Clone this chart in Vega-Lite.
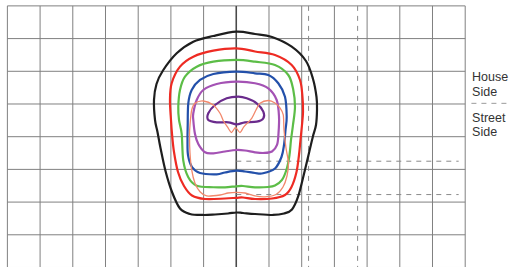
{
  "$schema": "https://vega.github.io/schema/vega-lite/v6.json",
  "width": 510,
  "height": 267,
  "padding": 0,
  "autosize": {"type": "none"},
  "background": "white",
  "config": {"view": {"stroke": null}},
  "datasets": {
    "vgrid": [{"u":-7},{"u":-6},{"u":-5},{"u":-4},{"u":-3},{"u":-2},{"u":-1},{"u":0},{"u":1},{"u":2},{"u":3},{"u":4},{"u":5},{"u":6},{"u":7}],
    "hgrid": [{"v":3},{"v":2},{"v":1},{"v":0},{"v":-1},{"v":-2},{"v":-3},{"v":-4},{"v":-5}],
    "dashV": [{"u":2.21},{"u":3.71}],
    "dashH": [{"v":-1.75},{"v":-2.77}],
    "labels": [
      {"t":"House","v":0.713},
      {"t":"Side","v":0.254},
      {"t":"Street","v":-0.56},
      {"t":"Side","v":-0.988}
    ],
    "contours": [
      {"k":"c1","i":0,"x":0,"y":2.211},{"k":"c1","i":1,"x":0.572,"y":2.141},{"k":"c1","i":2,"x":1.092,"y":2.049},{"k":"c1","i":3,"x":1.694,"y":1.752},{"k":"c1","i":4,"x":2.131,"y":1.315},{"k":"c1","i":5,"x":2.346,"y":0.765},{"k":"c1","i":6,"x":2.453,"y":0.214},{"k":"c1","i":7,"x":2.468,"y":-0.183},{"k":"c1","i":8,"x":2.437,"y":-0.642},{"k":"c1","i":9,"x":2.346,"y":-0.979},{"k":"c1","i":10,"x":2.223,"y":-1.498},{"k":"c1","i":11,"x":2.04,"y":-2.263},{"k":"c1","i":12,"x":1.887,"y":-2.844},{"k":"c1","i":13,"x":1.703,"y":-3.226},{"k":"c1","i":14,"x":1.459,"y":-3.349},{"k":"c1","i":15,"x":1.122,"y":-3.394},{"k":"c1","i":16,"x":0.572,"y":-3.364},{"k":"c1","i":17,"x":0.205,"y":-3.333},{"k":"c1","i":18,"x":0,"y":-3.318},{"k":"c1","i":19,"x":-0.254,"y":-3.349},{"k":"c1","i":20,"x":-0.651,"y":-3.379},{"k":"c1","i":21,"x":-1.018,"y":-3.394},{"k":"c1","i":22,"x":-1.416,"y":-3.364},{"k":"c1","i":23,"x":-1.722,"y":-3.196},{"k":"c1","i":24,"x":-1.966,"y":-2.691},{"k":"c1","i":25,"x":-2.165,"y":-2.049},{"k":"c1","i":26,"x":-2.318,"y":-1.346},{"k":"c1","i":27,"x":-2.41,"y":-0.856},{"k":"c1","i":28,"x":-2.486,"y":-0.489},{"k":"c1","i":29,"x":-2.517,"y":0.122},{"k":"c1","i":30,"x":-2.44,"y":0.612},{"k":"c1","i":31,"x":-2.242,"y":1.024},{"k":"c1","i":32,"x":-1.823,"y":1.55},{"k":"c1","i":33,"x":-1.315,"y":1.905},{"k":"c1","i":34,"x":-0.703,"y":2.08},

      {"k":"c2","i":0,"x":0,"y":1.703},{"k":"c2","i":1,"x":0.572,"y":1.606},{"k":"c2","i":2,"x":1.183,"y":1.498},{"k":"c2","i":3,"x":1.694,"y":1.193},{"k":"c2","i":4,"x":1.948,"y":0.734},{"k":"c2","i":5,"x":2.024,"y":0.214},{"k":"c2","i":6,"x":2.04,"y":-0.245},{"k":"c2","i":7,"x":2.009,"y":-0.642},{"k":"c2","i":8,"x":1.963,"y":-1.101},{"k":"c2","i":9,"x":1.917,"y":-1.56},{"k":"c2","i":10,"x":1.841,"y":-2.08},{"k":"c2","i":11,"x":1.688,"y":-2.538},{"k":"c2","i":12,"x":1.489,"y":-2.783},{"k":"c2","i":13,"x":1.092,"y":-2.89},{"k":"c2","i":14,"x":0.572,"y":-2.905},{"k":"c2","i":15,"x":0.205,"y":-2.859},{"k":"c2","i":16,"x":0,"y":-2.869},{"k":"c2","i":17,"x":-0.346,"y":-2.89},{"k":"c2","i":18,"x":-0.957,"y":-2.905},{"k":"c2","i":19,"x":-1.355,"y":-2.798},{"k":"c2","i":20,"x":-1.599,"y":-2.508},{"k":"c2","i":21,"x":-1.783,"y":-2.08},{"k":"c2","i":22,"x":-1.905,"y":-1.468},{"k":"c2","i":23,"x":-1.966,"y":-0.917},{"k":"c2","i":24,"x":-1.997,"y":-0.489},{"k":"c2","i":25,"x":-2.028,"y":0.122},{"k":"c2","i":26,"x":-1.976,"y":0.633},{"k":"c2","i":27,"x":-1.722,"y":1.141},{"k":"c2","i":28,"x":-1.315,"y":1.446},{"k":"c2","i":29,"x":-0.703,"y":1.63},

      {"k":"c4","i":0,"x":0,"y":1.346},{"k":"c4","i":1,"x":0.572,"y":1.294},{"k":"c4","i":2,"x":1.183,"y":1.193},{"k":"c4","i":3,"x":1.59,"y":0.887},{"k":"c4","i":4,"x":1.743,"y":0.428},{"k":"c4","i":5,"x":1.795,"y":-0.083},{"k":"c4","i":6,"x":1.734,"y":-0.642},{"k":"c4","i":7,"x":1.673,"y":-1.101},{"k":"c4","i":8,"x":1.627,"y":-1.56},{"k":"c4","i":9,"x":1.55,"y":-1.957},{"k":"c4","i":10,"x":1.398,"y":-2.324},{"k":"c4","i":11,"x":1.183,"y":-2.492},{"k":"c4","i":12,"x":0.969,"y":-2.538},{"k":"c4","i":13,"x":0.572,"y":-2.547},{"k":"c4","i":14,"x":0.205,"y":-2.508},{"k":"c4","i":15,"x":0,"y":-2.517},{"k":"c4","i":16,"x":-0.346,"y":-2.547},{"k":"c4","i":17,"x":-0.703,"y":-2.547},{"k":"c4","i":18,"x":-1.211,"y":-2.498},{"k":"c4","i":19,"x":-1.468,"y":-2.242},{"k":"c4","i":20,"x":-1.621,"y":-1.734},{"k":"c4","i":21,"x":-1.67,"y":-0.917},{"k":"c4","i":22,"x":-1.752,"y":-0.489},{"k":"c4","i":23,"x":-1.774,"y":-0.083},{"k":"c4","i":24,"x":-1.722,"y":0.428},{"k":"c4","i":25,"x":-1.569,"y":0.835},{"k":"c4","i":26,"x":-1.211,"y":1.141},{"k":"c4","i":27,"x":-0.703,"y":1.294},

      {"k":"c5","i":0,"x":0,"y":0.988},{"k":"c5","i":1,"x":0.572,"y":0.939},{"k":"c5","i":2,"x":0.979,"y":0.887},{"k":"c5","i":3,"x":1.284,"y":0.633},{"k":"c5","i":4,"x":1.489,"y":0.223},{"k":"c5","i":5,"x":1.541,"y":-0.388},{"k":"c5","i":6,"x":1.505,"y":-0.795},{"k":"c5","i":7,"x":1.459,"y":-1.254},{"k":"c5","i":8,"x":1.382,"y":-1.621},{"k":"c5","i":9,"x":1.183,"y":-1.972},{"k":"c5","i":10,"x":0.817,"y":-2.119},{"k":"c5","i":11,"x":0.572,"y":-2.11},{"k":"c5","i":12,"x":0.266,"y":-2.064},{"k":"c5","i":13,"x":0,"y":-2.04},{"k":"c5","i":14,"x":-0.346,"y":-2.095},{"k":"c5","i":15,"x":-0.599,"y":-2.15},{"k":"c5","i":16,"x":-1.11,"y":-2.11},{"k":"c5","i":17,"x":-1.355,"y":-1.927},{"k":"c5","i":18,"x":-1.477,"y":-1.56},{"k":"c5","i":19,"x":-1.492,"y":-1.101},{"k":"c5","i":20,"x":-1.486,"y":-0.642},{"k":"c5","i":21,"x":-1.468,"y":0.021},{"k":"c5","i":22,"x":-1.364,"y":0.428},{"k":"c5","i":23,"x":-1.11,"y":0.734},{"k":"c5","i":24,"x":-0.703,"y":0.917},

      {"k":"c6","i":0,"x":0,"y":0.682},{"k":"c6","i":1,"x":0.572,"y":0.633},{"k":"c6","i":2,"x":0.979,"y":0.48},{"k":"c6","i":3,"x":1.235,"y":0.122},{"k":"c6","i":4,"x":1.306,"y":-0.388},{"k":"c6","i":5,"x":1.291,"y":-0.896},{"k":"c6","i":6,"x":1.245,"y":-1.254},{"k":"c6","i":7,"x":1.092,"y":-1.453},{"k":"c6","i":8,"x":0.847,"y":-1.498},{"k":"c6","i":9,"x":0.572,"y":-1.477},{"k":"c6","i":10,"x":0.266,"y":-1.422},{"k":"c6","i":11,"x":0,"y":-1.407},{"k":"c6","i":12,"x":-0.346,"y":-1.453},{"k":"c6","i":13,"x":-0.703,"y":-1.508},{"k":"c6","i":14,"x":-0.957,"y":-1.477},{"k":"c6","i":15,"x":-1.162,"y":-1.223},{"k":"c6","i":16,"x":-1.263,"y":-0.917},{"k":"c6","i":17,"x":-1.315,"y":-0.489},{"k":"c6","i":18,"x":-1.315,"y":-0.284},{"k":"c6","i":19,"x":-1.211,"y":0.122},{"k":"c6","i":20,"x":-1.009,"y":0.428},{"k":"c6","i":21,"x":-0.599,"y":0.612},

      {"k":"c7","i":0,"x":0.061,"y":0.223},{"k":"c7","i":1,"x":0.318,"y":0.174},{"k":"c7","i":2,"x":0.624,"y":0.021},{"k":"c7","i":3,"x":0.826,"y":-0.235},{"k":"c7","i":4,"x":0.826,"y":-0.437},{"k":"c7","i":5,"x":0.624,"y":-0.541},{"k":"c7","i":6,"x":0.266,"y":-0.56},{"k":"c7","i":7,"x":0.012,"y":-0.621},{"k":"c7","i":8,"x":-0.245,"y":-0.56},{"k":"c7","i":9,"x":-0.599,"y":-0.56},{"k":"c7","i":10,"x":-0.856,"y":-0.489},{"k":"c7","i":11,"x":-0.856,"y":-0.284},{"k":"c7","i":12,"x":-0.651,"y":-0.031},{"k":"c7","i":13,"x":-0.294,"y":0.174},

      {"k":"c3","i":0,"x":-1.416,"y":-1.498},{"k":"c3","i":1,"x":-1.431,"y":-0.948},{"k":"c3","i":2,"x":-1.416,"y":-0.642},{"k":"c3","i":3,"x":-1.364,"y":-0.183},{"k":"c3","i":4,"x":-1.263,"y":0.021},{"k":"c3","i":5,"x":-1.009,"y":0.092},{"k":"c3","i":6,"x":-0.703,"y":-0.031},{"k":"c3","i":7,"x":-0.498,"y":-0.284},{"k":"c3","i":8,"x":-0.391,"y":-0.52},{"k":"c3","i":9,"x":-0.269,"y":-0.703},{"k":"c3","i":10,"x":-0.147,"y":-0.872},{"k":"c3","i":11,"x":-0.024,"y":-0.719},{"k":"c3","i":12,"x":0.113,"y":-0.872},{"k":"c3","i":13,"x":0.235,"y":-0.694},{"k":"c3","i":14,"x":0.471,"y":-0.437},{"k":"c3","i":15,"x":0.602,"y":-0.183},{"k":"c3","i":16,"x":0.725,"y":0.021},{"k":"c3","i":17,"x":0.979,"y":0.107},{"k":"c3","i":18,"x":1.183,"y":0.031},{"k":"c3","i":19,"x":1.336,"y":-0.122},{"k":"c3","i":20,"x":1.437,"y":-0.336},{"k":"c3","i":21,"x":1.459,"y":-0.795},{"k":"c3","i":22,"x":1.52,"y":-1.346},{"k":"c3","i":23,"x":1.596,"y":-1.804},{"k":"c3","i":24,"x":1.55,"y":-2.202},{"k":"c3","i":25,"x":1.428,"y":-2.538},{"k":"c3","i":26,"x":1.214,"y":-2.768},{"k":"c3","i":27,"x":0.878,"y":-2.838},{"k":"c3","i":28,"x":0.572,"y":-2.813},{"k":"c3","i":29,"x":0.266,"y":-2.722},{"k":"c3","i":30,"x":0,"y":-2.7},{"k":"c3","i":31,"x":-0.254,"y":-2.722},{"k":"c3","i":32,"x":-0.498,"y":-2.783},{"k":"c3","i":33,"x":-0.905,"y":-2.813},{"k":"c3","i":34,"x":-1.11,"y":-2.682},{"k":"c3","i":35,"x":-1.263,"y":-2.425},{"k":"c3","i":36,"x":-1.364,"y":-2.018}
    ]
  },
  "resolve": {"scale": {"color": "independent", "strokeWidth": "independent"}},
  "layer": [
    {
      "data": {"name": "vgrid"},
      "mark": {"type": "rule", "color": "#808080", "strokeWidth": 1},
      "encoding": {
        "x": {"field": "u", "type": "quantitative", "scale": {"domain": [-7.226, 8.37], "nice": false, "zero": false}, "axis": null},
        "y": {"datum": 3, "type": "quantitative", "scale": {"domain": [-4.985, 3.18], "nice": false, "zero": false}, "axis": null},
        "y2": {"datum": -5}
      }
    },
    {
      "data": {"name": "hgrid"},
      "mark": {"type": "rule", "color": "#808080", "strokeWidth": 1},
      "encoding": {
        "y": {"field": "v", "type": "quantitative"},
        "x": {"datum": -7, "type": "quantitative"},
        "x2": {"datum": 7}
      }
    },
    {
      "data": {"name": "vgrid"},
      "transform": [{"filter": "datum.u == 0"}],
      "mark": {"type": "rule", "color": "#4a4a4a", "strokeWidth": 1.5},
      "encoding": {
        "x": {"field": "u", "type": "quantitative"},
        "y": {"datum": 3, "type": "quantitative"},
        "y2": {"datum": -5}
      }
    },
    {
      "data": {"name": "dashV"},
      "mark": {"type": "rule", "color": "#8a8a8a", "strokeWidth": 1, "strokeDash": [5, 5]},
      "encoding": {
        "x": {"field": "u", "type": "quantitative"},
        "y": {"datum": 3, "type": "quantitative"},
        "y2": {"datum": -5}
      }
    },
    {
      "data": {"name": "dashH"},
      "mark": {"type": "rule", "color": "#8a8a8a", "strokeWidth": 1, "strokeDash": [5, 5]},
      "encoding": {
        "y": {"field": "v", "type": "quantitative"},
        "x": {"datum": 0, "type": "quantitative"},
        "x2": {"datum": 6.8}
      }
    },
    {
      "data": {"values": [{"v": 0.02}]},
      "mark": {"type": "rule", "color": "#9a9a9a", "strokeWidth": 1, "strokeDash": [5, 5]},
      "encoding": {
        "y": {"field": "v", "type": "quantitative"},
        "x": {"datum": 7.19, "type": "quantitative"},
        "x2": {"datum": 8.4}
      }
    },
    {
      "data": {"name": "contours"},
      "transform": [{"filter": "datum.k != 'c3'"}],
      "mark": {"type": "line", "interpolate": "cardinal-closed", "strokeWidth": 2.2},
      "encoding": {
        "x": {"field": "x", "type": "quantitative"},
        "y": {"field": "y", "type": "quantitative"},
        "order": {"field": "i", "type": "quantitative"},
        "color": {"field": "k", "type": "nominal", "legend": null,
          "scale": {"domain": ["c1", "c2", "c4", "c5", "c6", "c7"], "range": ["#1e1e1e", "#ee2b23", "#5cbd47", "#2350aa", "#a452b4", "#6a2b8c"]}}
      }
    },
    {
      "data": {"name": "contours"},
      "transform": [{"filter": "datum.k == 'c3'"}],
      "mark": {"type": "line", "interpolate": "cardinal-closed", "tension": 0.2, "strokeWidth": 1.3, "color": "#f2886c"},
      "encoding": {
        "x": {"field": "x", "type": "quantitative"},
        "y": {"field": "y", "type": "quantitative"},
        "order": {"field": "i", "type": "quantitative"}
      }
    },
    {
      "data": {"name": "labels"},
      "mark": {"type": "text", "align": "left", "baseline": "alphabetic", "font": "Liberation Sans", "fontSize": 12.5, "color": "#333333"},
      "encoding": {
        "x": {"datum": 7.21, "type": "quantitative"},
        "y": {"field": "v", "type": "quantitative"},
        "text": {"field": "t"}
      }
    }
  ]
}
